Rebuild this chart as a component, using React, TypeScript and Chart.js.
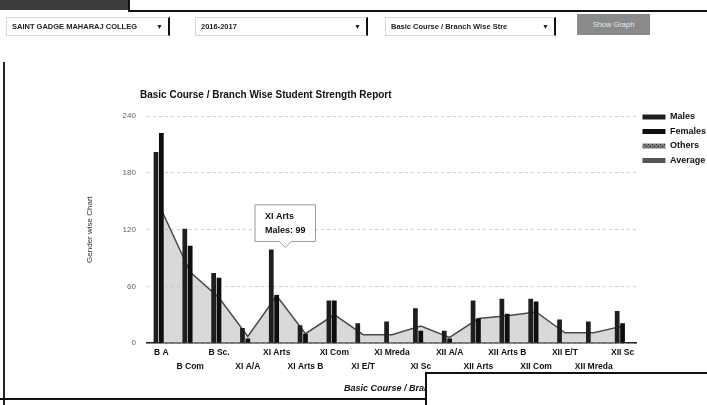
import React, { useEffect, useRef } from "react";
import { Chart, registerables, Tooltip } from "chart.js";

Chart.register(...registerables);

const categories = ["B A", "B Com", "B Sc.", "XI A/A", "XI Arts", "XI Arts B", "XI Com", "XI E/T", "XI Mreda", "XI Sc", "XII A/A", "XII Arts", "XII Arts B", "XII Com", "XII E/T", "XII Mreda", "XII Sc"];
const males = [202, 121, 74, 16, 99, 19, 45, 21, 23, 37, 13, 45, 47, 47, 25, 23, 34];
const females = [222, 103, 69, 5, 51, 10, 45, 0, 0, 13, 5, 26, 31, 44, 0, 0, 21];
const others = [0, 0, 0, 0, 0, 0, 0, 0, 0, 0, 0, 0, 0, 0, 0, 0, 0];
const average = [141, 75, 48, 7, 50, 10, 30, 9, 9, 18, 6, 26, 29, 33, 11, 11, 18];
const yTicks = [0, 60, 120, 180, 240];
const seriesNames = ["Males", "Females", "Others", "Average"];
const chartTitle = "Basic Course / Branch Wise Student Strength Report";
const yTitle = "Gender wise Chart";
const xTitle = "Basic Course / Branch";
const tooltipCategory = "XI Arts";

const FONT = "'Liberation Sans', Arial, sans-serif";

(Tooltip as any).positioners.barTopRight = function (items: any[]) {
  if (!items.length) return false;
  const el = items[0].element;
  return { x: el.x + 14, y: el.y };
};

const titlePlugin = {
  id: "customTitle",
  afterDraw(chart: any) {
    const { ctx, chartArea } = chart;
    ctx.save();
    ctx.font = `bold 10px ${FONT}`;
    ctx.fillStyle = "#111";
    ctx.textBaseline = "middle";
    ctx.textAlign = "left";
    ctx.fillText(chartTitle, chartArea.left - 7, chartArea.top - 21);
    ctx.restore();
  },
};

const legendShift = {
  id: "legendShift",
  beforeDraw(chart: any) {
    const lg = chart.legend;
    if (lg) {
      const h = lg.bottom - lg.top;
      lg.top = chart.chartArea.top - 9;
      lg.bottom = lg.top + h;
    }
  },
};

function App() {
  const ref = useRef<HTMLCanvasElement | null>(null);

  useEffect(() => {
    const canvas = ref.current!;
    const ctx = canvas.getContext("2d")!;
    const pc = document.createElement("canvas");
    pc.width = 4;
    pc.height = 4;
    const g = pc.getContext("2d")!;
    g.fillStyle = "#7a7a7a";
    g.fillRect(0, 0, 4, 4);
    g.fillStyle = "#2e2e2e";
    g.fillRect(0, 0, 1, 1);
    g.fillRect(2, 2, 1, 1);
    const hatch = ctx.createPattern(pc, "repeat");

    const chart = new Chart(canvas, {
      type: "bar",
      data: {
        labels: categories,
        datasets: [
          { type: "bar", label: seriesNames[0], data: males, backgroundColor: "#1e1e1e", hoverBackgroundColor: "#1e1e1e", order: 0, categoryPercentage: 0.56, barPercentage: 0.88 },
          { type: "bar", label: seriesNames[1], data: females, backgroundColor: "#0e0e0e", hoverBackgroundColor: "#0e0e0e", order: 0, categoryPercentage: 0.56, barPercentage: 0.88 },
          { type: "bar", label: seriesNames[2], data: others, backgroundColor: hatch as any, borderColor: "#333", order: 0, categoryPercentage: 0.56, barPercentage: 0.88 },
          { type: "line", label: seriesNames[3], data: average, backgroundColor: "rgba(185,185,185,0.55)", borderColor: "#4a4a4a", borderWidth: 1.5, pointRadius: 0, pointHoverRadius: 0, fill: "origin", tension: 0, order: 1 },
        ] as any,
      },
      options: {
        animation: false,
        responsive: false,
        maintainAspectRatio: false,
        layout: { padding: { left: 85, top: 116, right: 0, bottom: 11 } },
        scales: {
          x: {
            grid: { display: false, drawTicks: false },
            border: { display: true, color: "#222", width: 1.5 },
            ticks: {
              autoSkip: false,
              maxRotation: 0,
              minRotation: 0,
              padding: 2,
              color: "#111",
              font: { family: FONT, size: 8.5, weight: "bold", lineHeight: 1.65 },
              callback: (_v: any, i: number) => (i % 2 === 0 ? categories[i] : ["", categories[i]]),
            },
            title: {
              display: true,
              text: xTitle,
              color: "#111",
              font: { family: FONT, size: 9, weight: "bold", style: "italic" },
              padding: { top: 8, bottom: 0 },
            },
          },
          y: {
            min: 0,
            max: 240,
            afterBuildTicks: (axis: any) => {
              axis.ticks = yTicks.map((v) => ({ value: v }));
            },
            grid: { color: "rgba(0,0,0,0.18)", drawTicks: false },
            border: { display: false, dash: [3, 3] },
            ticks: { padding: 11, color: "#666", font: { family: FONT, size: 8 } },
            title: {
              display: true,
              text: yTitle,
              color: "#333",
              font: { family: FONT, size: 8 },
              padding: { top: 0, bottom: 17 },
            },
          },
        },
        plugins: {
          title: { display: false },
          legend: {
            position: "right",
            align: "start",
            labels: {
              boxWidth: 23,
              boxHeight: 5,
              padding: 5.5,
              color: "#111",
              font: { family: FONT, size: 9, weight: "bold" },
              generateLabels: (c: any) => {
                const items = (Chart as any).defaults.plugins.legend.labels.generateLabels(c);
                items.forEach((it: any) => {
                  if (it.text === seriesNames[3]) {
                    it.fillStyle = "#555";
                    it.strokeStyle = "#555";
                  }
                  it.lineWidth = 0;
                });
                return items;
              },
            },
          },
          tooltip: {
            position: "barTopRight" as any,
            xAlign: "center",
            yAlign: "bottom",
            backgroundColor: "#fff",
            borderColor: "#999",
            borderWidth: 1,
            cornerRadius: 0,
            titleColor: "#111",
            bodyColor: "#111",
            titleFont: { family: FONT, size: 9, weight: "bold" },
            bodyFont: { family: FONT, size: 9, weight: "bold" },
            titleMarginBottom: 3,
            padding: { top: 6, bottom: 6, left: 10, right: 10 },
            caretSize: 6,
            displayColors: false,
          },
        },
      } as any,
      plugins: [titlePlugin, legendShift],
    });

    const idx = categories.indexOf(tooltipCategory);
    chart.tooltip?.setActiveElements([{ datasetIndex: 0, index: idx }], { x: 0, y: 0 });
    chart.update();

    return () => chart.destroy();
  }, []);

  const selectBox = (left: number, width: number, text: string) => (
    <div
      style={{
        position: "absolute",
        left,
        top: 17,
        width,
        height: 19,
        borderTop: "1px solid #d8d8d8",
        borderLeft: "1px solid #d8d8d8",
        borderRight: "2px solid #111",
        borderBottom: "1px solid #d8d8d8",
        boxSizing: "border-box",
        fontSize: 7.5,
        fontWeight: "bold",
        color: "#222",
        lineHeight: "17px",
        paddingLeft: 5,
        whiteSpace: "nowrap",
        overflow: "hidden",
      }}
    >
      {text}
      <span style={{ position: "absolute", right: 5, top: 0, fontSize: 7 }}>▼</span>
    </div>
  );

  return (
    <div style={{ position: "fixed", left: 0, top: 0, width: 707, height: 405, overflow: "hidden", background: "#fff", fontFamily: FONT }}>
      <canvas ref={ref} width={716} height={405} style={{ position: "absolute", left: 0, top: 0, width: 716, height: 405 }} />
      <div style={{ position: "absolute", left: 0, top: 0, width: 128, height: 10, background: "#3c3c3c" }} />
      <div style={{ position: "absolute", left: 128, top: -4, width: 600, height: 12, border: "2px solid #111", background: "#fff" }} />
      {selectBox(6, 164, "SAINT GADGE MAHARAJ COLLEG")}
      {selectBox(195, 173, "2016-2017")}
      {selectBox(385, 171, "Basic Course / Branch Wise Stre")}
      <div style={{ position: "absolute", left: 577, top: 14, width: 73, height: 21, background: "#8a8a8a", color: "#e8e8e8", fontSize: 7.5, lineHeight: "21px", textAlign: "center" }}>Show Graph</div>
      <div style={{ position: "absolute", left: 3, top: 62, width: 2, height: 343, background: "#222" }} />
      <div style={{ position: "absolute", left: 0, top: 398, width: 430, height: 2, background: "#111" }} />
      <div style={{ position: "absolute", left: 425, top: 372, width: 320, height: 60, border: "2px solid #111", background: "#fff" }} />
    </div>
  );
}

export default App;
